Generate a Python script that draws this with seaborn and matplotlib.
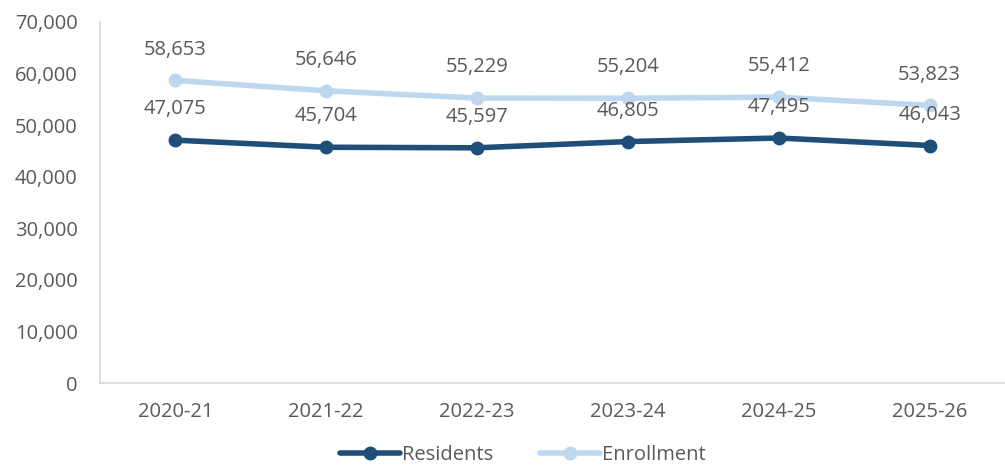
import pandas as pd
import matplotlib
matplotlib.use('Agg')
import matplotlib.pyplot as plt
import seaborn as sns

years = ['2020-21', '2021-22', '2022-23', '2023-24', '2024-25', '2025-26']
residents = [47075, 45704, 45597, 46805, 47495, 46043]
enrollment = [58653, 56646, 55229, 55204, 55412, 53823]

df = pd.DataFrame({
    'year': years * 2,
    'value': residents + enrollment,
    'series': ['Residents'] * len(years) + ['Enrollment'] * len(years),
})

sns.set_style('white')
plt.rcParams['font.family'] = ['Open Sans', 'DejaVu Sans']
text_color = '#595959'
palette = {'Residents': '#1F4E79', 'Enrollment': '#BDD7EE'}

fig = plt.figure(figsize=(10.05, 4.66), dpi=100)
ax = fig.add_axes([0.0995, 0.178, 0.9005, 0.775])

sns.lineplot(data=df, x='year', y='value', hue='series', palette=palette,
             marker='o', markersize=10, markeredgewidth=0, linewidth=4,
             sort=False, ax=ax)

# data labels above points
for vals in (residents, enrollment):
    for i, v in enumerate(vals):
        ax.annotate(f'{v:,}', (i, v), xytext=(0, 15), textcoords='offset points',
                    ha='center', va='bottom', fontsize=14.5, color=text_color)

ax.set_xlim(-0.5, len(years) - 0.5)
ax.set_ylim(0, 70000)
ax.set_yticks(range(0, 70001, 10000))
ax.yaxis.set_major_formatter(matplotlib.ticker.FuncFormatter(lambda v, p: f'{int(v):,}'))
ax.set_xlabel('')
ax.set_ylabel('')
ax.tick_params(axis='both', length=0, labelsize=14.5, labelcolor=text_color)
ax.tick_params(axis='y', pad=16)
ax.tick_params(axis='x', pad=14)

for s in ['top', 'right']:
    ax.spines[s].set_visible(False)
for s in ['left', 'bottom']:
    ax.spines[s].set_color('#D9D9D9')
    ax.spines[s].set_linewidth(1.2)

handles, labels = ax.get_legend_handles_labels()
ax.legend(handles, labels, loc='center', bbox_to_anchor=(0.467, -0.2),
          ncol=2, frameon=False, fontsize=14.5, labelcolor=text_color,
          handlelength=3.0, handletextpad=0.1, columnspacing=2.3)

fig.savefig('out.png', dpi=100)
